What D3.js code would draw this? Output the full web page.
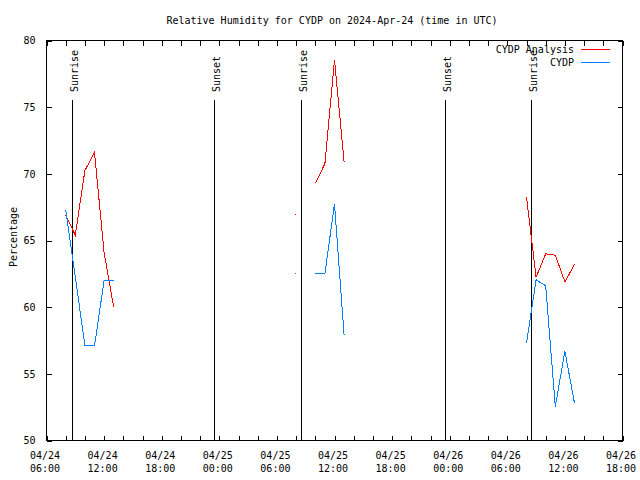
<!DOCTYPE html>
<html><head><meta charset="utf-8">
<script src="https://cdn.jsdelivr.net/npm/d3@7"></script>
<style>
body{margin:0;background:#fff}
svg{display:block}
text{font-family:"DejaVu Sans Mono","Liberation Mono",monospace;font-size:10px;fill:#000}
</style>
</head><body>
<svg id="c" width="640" height="480"></svg>
<script>
const title = "Relative Humidity for CYDP on 2024-Apr-24 (time in UTC)";
const yLabel = "Percentage";
const seriesNames = ["CYDP Analysis", "CYDP"];
const seriesColors = ["#ff0000", "#0080ff"];
const times = [
  "2024-04-24T08:00Z","2024-04-24T09:00Z","2024-04-24T10:00Z","2024-04-24T11:00Z","2024-04-24T12:00Z","2024-04-24T13:00Z",
  "2024-04-24T14:00Z",
  "2024-04-25T08:00Z",
  "2024-04-25T09:00Z",
  "2024-04-25T10:00Z","2024-04-25T11:00Z","2024-04-25T12:00Z","2024-04-25T13:00Z",
  "2024-04-25T14:00Z",
  "2024-04-26T08:00Z","2024-04-26T09:00Z","2024-04-26T10:00Z","2024-04-26T11:00Z","2024-04-26T12:00Z","2024-04-26T13:00Z"
];
const analysis = [66.9, 65.4, 70.25, 71.6, 64.1, 60.0, null, 66.9, null, 69.3, 70.75, 78.55, 70.9, null, 68.25, 62.25, 64.0, 63.9, 61.9, 63.2];
const station  = [67.3, 62.3, 57.1, 57.1, 62.0, 62.0, null, 62.5, null, 62.5, 62.5, 67.75, 57.9, null, 57.3, 62.05, 61.6, 52.55, 56.7, 52.8];
const xTicks = [
  "2024-04-24T06:00Z","2024-04-24T12:00Z","2024-04-24T18:00Z","2024-04-25T00:00Z","2024-04-25T06:00Z","2024-04-25T12:00Z",
  "2024-04-25T18:00Z","2024-04-26T00:00Z","2024-04-26T06:00Z","2024-04-26T12:00Z","2024-04-26T18:00Z"
];
const yTicks = [50, 55, 60, 65, 70, 75, 80];
const eventTimes = ["2024-04-24T08:44Z","2024-04-24T23:27Z","2024-04-25T08:36Z","2024-04-25T23:34Z","2024-04-26T08:33Z"];
const eventLabels = ["Sunrise","Sunset","Sunrise","Sunset","Sunrise"];

const svg = d3.select("#c");
const L = 46.5, R = 622.5, T = 40.5, B = 440.5;
const tickDates = xTicks.map(s => new Date(s));
const x = d3.scaleUtc().domain([tickDates[0], tickDates[tickDates.length - 1]]).range([L, R]);
const y = d3.scaleLinear().domain([50, 80]).range([B, T]);
const minorTicks = d3.utcHour.every(2).range(tickDates[0], d3.utcHour.offset(tickDates[tickDates.length - 1], 1));
const fmtD = d3.utcFormat("%m/%d"), fmtT = d3.utcFormat("%H:%M");

const root = svg.append("g").attr("shape-rendering", "crispEdges");

// title
svg.append("text").attr("x", 332).attr("y", 24).attr("text-anchor", "middle").text(title);
// y label
svg.append("text").attr("transform", "translate(17,237) rotate(-90)").attr("text-anchor", "middle").text(yLabel);

// bottom ticks (inward)
root.append("g").attr("transform", `translate(0,${B})`)
  .call(d3.axisBottom(x).tickValues(minorTicks).tickSize(-5).tickFormat(""))
  .call(g => g.select(".domain").remove());
// bottom labels
const bl = root.append("g").attr("transform", `translate(0,${B})`)
  .call(d3.axisBottom(x).tickValues(tickDates).tickSize(0).tickFormat(""))
  .call(g => g.select(".domain").remove());
bl.selectAll(".tick text").attr("dy", null).attr("y", null).each(function(d) {
  const t = d3.select(this).attr("font-family", null).attr("font-size", null);
  t.append("tspan").attr("x", -2).attr("y", 18).text(fmtD(d));
  t.append("tspan").attr("x", -2).attr("y", 31.5).text(fmtT(d));
});
// top ticks
root.append("g").attr("transform", `translate(0,${T})`)
  .call(d3.axisTop(x).tickValues(minorTicks).tickSize(-5).tickFormat(""))
  .call(g => g.select(".domain").remove());
// left axis
root.append("g").attr("transform", `translate(${L},0)`)
  .call(d3.axisLeft(y).tickValues(yTicks).tickSize(-5).tickPadding(11).tickFormat(d3.format("d")))
  .call(g => g.select(".domain").remove())
  .call(g => g.selectAll(".tick text").attr("font-family", null).attr("font-size", null));
// right axis
root.append("g").attr("transform", `translate(${R},0)`)
  .call(d3.axisRight(y).tickValues(yTicks).tickSize(-5).tickFormat(""))
  .call(g => g.select(".domain").remove());
root.selectAll(".tick line").attr("stroke", "#000");

// sunrise / sunset
const ev = root.append("g");
eventTimes.forEach((s, i) => {
  const xp = Math.round(x(new Date(s)) - 0.5) + 0.5;
  ev.append("line").attr("x1", xp).attr("x2", xp).attr("y1", 100).attr("y2", B).attr("stroke", "#000");
  svg.append("text").attr("transform", `translate(${xp + 5.5},92) rotate(-90)`).text(eventLabels[i]);
});

// series
const dates = times.map(s => new Date(s));
const seriesVals = [analysis, station];
seriesVals.forEach((vals, k) => {
  const pts = dates.map((d, i) => ({ d, v: vals[i] }));
  const line = d3.line().defined(p => p.v != null).x(p => x(p.d)).y(p => y(p.v));
  root.append("path").attr("d", line(pts)).attr("fill", "none")
    .attr("stroke", seriesColors[k]).attr("stroke-width", 1);
  pts.forEach((p, i) => {
    const prev = i > 0 ? pts[i - 1].v : null, next = i < pts.length - 1 ? pts[i + 1].v : null;
    if (p.v != null && prev == null && next == null) {
      root.append("rect").attr("x", Math.round(x(p.d)) - 1).attr("y", Math.round(y(p.v)) - 1)
        .attr("width", 1).attr("height", 1).attr("fill", seriesColors[k]);
    }
  });
});

// border
root.append("rect").attr("x", L).attr("y", T).attr("width", R - L).attr("height", B - T)
  .attr("fill", "none").attr("stroke", "#000");

// legend
seriesNames.forEach((n, k) => {
  const yy = 49.5 + k * 13;
  svg.append("text").attr("x", 574).attr("y", yy + 3.5).attr("text-anchor", "end").text(n);
  root.append("line").attr("x1", 581).attr("x2", 610).attr("y1", yy).attr("y2", yy).attr("stroke", seriesColors[k]);
});
</script>
</body></html>
